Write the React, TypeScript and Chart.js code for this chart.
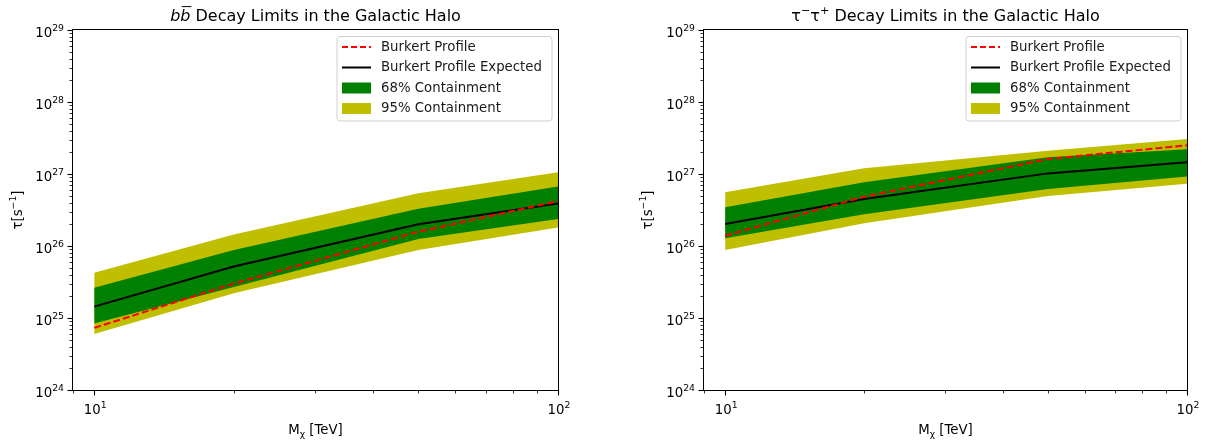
import React, { useEffect, useRef } from 'react';
import { Chart, registerables } from 'chart.js';

Chart.register(...registerables);

// ---------- data ----------
const MASSES = [10, 20, 50, 100]; // TeV

// b b-bar channel
const BB_OBSERVED = [7.3e24, 3.0e25, 1.58e26, 4.2e26];
const BB_EXPECTED = [1.44e25, 5.2e25, 2.0e26, 3.9e26];
const BB_68_UPPER = [2.64e25, 8.8e25, 3.3e26, 6.7e26];
const BB_68_LOWER = [8.4e24, 2.7e25, 1.25e26, 2.37e26];
const BB_95_UPPER = [4.26e25, 1.45e26, 5.4e26, 1.06e27];
const BB_95_LOWER = [6.0e24, 2.2e25, 8.8e25, 1.8e26];

// tau- tau+ channel
const TT_OBSERVED = [1.39e26, 4.84e26, 1.62e27, 2.5e27];
const TT_EXPECTED = [2.02e26, 4.5e26, 1.02e27, 1.46e27];
const TT_68_UPPER = [3.44e26, 7.7e26, 1.71e27, 2.2e27];
const TT_68_LOWER = [1.28e26, 2.75e26, 6.2e26, 9.2e26];
const TT_95_UPPER = [5.57e26, 1.2e27, 2.11e27, 3.06e27];
const TT_95_LOWER = [8.8e25, 2.07e26, 4.95e26, 7.3e26];

const LEGEND_LABELS = ['Burkert Profile', 'Burkert Profile Expected', '68% Containment', '95% Containment'];

const X_MIN = 9;
const X_MAX = 100;
const Y_MIN = 1e24;
const Y_MAX = 1e29;
const X_MAJOR_VALUES = [10, 100];
const X_MAJOR_EXPONENTS = ['1', '2'];
const Y_MAJOR_VALUES = [1e24, 1e25, 1e26, 1e27, 1e28, 1e29];
const Y_MAJOR_EXPONENTS = ['24', '25', '26', '27', '28', '29'];
const TICK_BASE = '10';

const FONT = '"DejaVu Sans", Verdana, sans-serif';
const RED = '#ff0000';
const GREEN = '#008000';
const YELLOW = '#bfbf00';

type Seg = { t: string; sup?: boolean; sub?: boolean; italic?: boolean; overline?: boolean };

type Panel = {
  title: Seg[];
  observed: number[];
  expected: number[];
  up68: number[];
  lo68: number[];
  up95: number[];
  lo95: number[];
  leftPad: number;
  rightPad: number;
  yTitleX: number;
};

const TITLE_REST = ' Decay Limits in the Galactic Halo';
const Y_TITLE: Seg[] = [{ t: 'τ[s' }, { t: '−1', sup: true }, { t: ']' }];
const X_TITLE: Seg[] = [{ t: 'M' }, { t: 'χ', sub: true }, { t: ' [TeV]' }];

const PANELS: Panel[] = [
  {
    title: [{ t: 'b', italic: true }, { t: 'b', italic: true, overline: true }, { t: TITLE_REST }],
    observed: BB_OBSERVED,
    expected: BB_EXPECTED,
    up68: BB_68_UPPER,
    lo68: BB_68_LOWER,
    up95: BB_95_UPPER,
    lo95: BB_95_LOWER,
    leftPad: 73,
    rightPad: 45,
    yTitleX: 17,
  },
  {
    title: [{ t: 'τ' }, { t: '−', sup: true }, { t: 'τ' }, { t: '+', sup: true }, { t: TITLE_REST }],
    observed: TT_OBSERVED,
    expected: TT_EXPECTED,
    up68: TT_68_UPPER,
    lo68: TT_68_LOWER,
    up95: TT_95_UPPER,
    lo95: TT_95_LOWER,
    leftPad: 101,
    rightPad: 19,
    yTitleX: 44,
  },
];

const W = 603;
const H = 445;

function pts(ys: number[]) {
  return MASSES.map((m, i) => ({ x: m, y: ys[i] }));
}

function xTickValues() {
  const out: { value: number }[] = [{ value: 9 }];
  for (let k = 1; k <= 10; k++) out.push({ value: k * 10 });
  return out;
}

function yTickValues() {
  const out: { value: number }[] = [];
  for (let e = 24; e <= 29; e++) {
    out.push({ value: Math.pow(10, e) });
    if (e < 29) for (let k = 2; k <= 9; k++) out.push({ value: k * Math.pow(10, e) });
  }
  return out;
}

function isDecade(v: number) {
  const l = Math.log10(v);
  return Math.abs(l - Math.round(l)) < 1e-9;
}

function segFont(s: Seg, size: number) {
  const sz = s.sup || s.sub ? size * 0.7 : size;
  return `${s.italic ? 'italic ' : ''}${sz}px ${FONT}`;
}

function measureSegs(ctx: CanvasRenderingContext2D, segs: Seg[], size: number) {
  let w = 0;
  for (const s of segs) {
    ctx.font = segFont(s, size);
    w += ctx.measureText(s.t).width;
  }
  return w;
}

// draws rich text starting at x with given baseline
function drawSegs(ctx: CanvasRenderingContext2D, segs: Seg[], size: number, x: number, baseline: number) {
  let xx = x;
  ctx.textAlign = 'left';
  ctx.textBaseline = 'alphabetic';
  for (const s of segs) {
    ctx.font = segFont(s, size);
    const w = ctx.measureText(s.t).width;
    const dy = s.sup ? -size * 0.42 : s.sub ? size * 0.2 : 0;
    ctx.fillText(s.t, xx, baseline + dy);
    if (s.overline) {
      ctx.save();
      ctx.lineWidth = 1;
      ctx.beginPath();
      ctx.moveTo(xx + 1.5, baseline - size * 0.9);
      ctx.lineTo(xx + w + 1, baseline - size * 0.9);
      ctx.stroke();
      ctx.restore();
    }
    xx += w;
  }
}

function makeDecor(p: Panel) {
  return {
    id: 'decor',
    afterDraw(chart: any) {
      const ctx: CanvasRenderingContext2D = chart.ctx;
      const a = chart.chartArea;
      const xs = chart.scales.x;
      const ys = chart.scales.y;
      ctx.save();

      // frame
      ctx.strokeStyle = '#000';
      ctx.fillStyle = '#000';
      ctx.lineWidth = 1;
      const L = Math.round(a.left) - 0.5;
      const T = Math.round(a.top) - 0.5;
      const R = Math.round(a.right) + 0.5;
      const B = Math.round(a.bottom) + 0.5;
      ctx.strokeRect(L, T, R - L, B - T);

      // ticks
      for (const t of xs.ticks) {
        const px = Math.round(xs.getPixelForValue(t.value)) + 0.5;
        if (px < a.left - 1 || px > a.right + 1) continue;
        const major = isDecade(t.value);
        ctx.lineWidth = major ? 1.1 : 0.8;
        ctx.beginPath();
        ctx.moveTo(px, B);
        ctx.lineTo(px, B + (major ? 5 : 3));
        ctx.stroke();
      }
      for (const t of ys.ticks) {
        const py = Math.round(ys.getPixelForValue(t.value)) + 0.5;
        const major = isDecade(t.value);
        ctx.lineWidth = major ? 1.1 : 0.8;
        ctx.beginPath();
        ctx.moveTo(L, py);
        ctx.lineTo(L - (major ? 5 : 3), py);
        ctx.stroke();
      }

      // tick labels (10 with superscript exponent)
      const TS = 13.3;
      X_MAJOR_VALUES.forEach((v, i) => {
        const segs: Seg[] = [{ t: TICK_BASE }, { t: X_MAJOR_EXPONENTS[i], sup: true }];
        const w = measureSegs(ctx, segs, TS);
        const px = xs.getPixelForValue(v);
        drawSegs(ctx, segs, TS, px - w / 2 + 1, 414);
      });
      Y_MAJOR_VALUES.forEach((v, i) => {
        const segs: Seg[] = [{ t: TICK_BASE }, { t: Y_MAJOR_EXPONENTS[i], sup: true }];
        const w = measureSegs(ctx, segs, TS);
        const py = ys.getPixelForValue(v);
        drawSegs(ctx, segs, TS, a.left - 9 - w, py + 6.5);
      });

      // title
      const cx = (a.left + a.right) / 2;
      const tw = measureSegs(ctx, p.title, 16);
      drawSegs(ctx, p.title, 16, cx - tw / 2, 21);

      // x axis title
      const xw = measureSegs(ctx, X_TITLE, 13.3);
      drawSegs(ctx, X_TITLE, 13.3, cx - xw / 2, 434);

      // y axis title
      ctx.save();
      ctx.translate(p.yTitleX, (a.top + a.bottom) / 2);
      ctx.rotate(-Math.PI / 2);
      const yw = measureSegs(ctx, Y_TITLE, 13.3);
      drawSegs(ctx, Y_TITLE, 13.3, -yw / 2, 5);
      ctx.restore();

      // legend
      const bw = 215;
      const bh = 84.5;
      const bx = a.right - 6 - bw;
      const by = a.top + 6.5;
      const r = 3;
      ctx.beginPath();
      ctx.moveTo(bx + r, by);
      ctx.lineTo(bx + bw - r, by);
      ctx.quadraticCurveTo(bx + bw, by, bx + bw, by + r);
      ctx.lineTo(bx + bw, by + bh - r);
      ctx.quadraticCurveTo(bx + bw, by + bh, bx + bw - r, by + bh);
      ctx.lineTo(bx + r, by + bh);
      ctx.quadraticCurveTo(bx, by + bh, bx, by + bh - r);
      ctx.lineTo(bx, by + r);
      ctx.quadraticCurveTo(bx, by, bx + r, by);
      ctx.closePath();
      ctx.fillStyle = 'rgba(255,255,255,0.8)';
      ctx.fill();
      ctx.strokeStyle = 'rgba(204,204,204,0.9)';
      ctx.lineWidth = 1;
      ctx.stroke();

      const rows = [by + 10.5, by + 31, by + 51.5, by + 72];
      const hx0 = bx + 5;
      const hx1 = bx + 34;
      ctx.strokeStyle = RED;
      ctx.lineWidth = 2;
      ctx.setLineDash([6, 3]);
      ctx.beginPath();
      ctx.moveTo(hx0, rows[0]);
      ctx.lineTo(hx1, rows[0]);
      ctx.stroke();
      ctx.setLineDash([]);
      ctx.strokeStyle = '#000';
      ctx.beginPath();
      ctx.moveTo(hx0, rows[1]);
      ctx.lineTo(hx1, rows[1]);
      ctx.stroke();
      ctx.fillStyle = GREEN;
      ctx.fillRect(hx0, rows[2] - 5.5, hx1 - hx0, 11);
      ctx.fillStyle = YELLOW;
      ctx.fillRect(hx0, rows[3] - 5.5, hx1 - hx0, 11);

      ctx.fillStyle = '#1a1a1a';
      ctx.font = `13.3px ${FONT}`;
      ctx.textAlign = 'left';
      ctx.textBaseline = 'middle';
      LEGEND_LABELS.forEach((lab, i) => ctx.fillText(lab, bx + 44, rows[i] + 0.5));

      ctx.restore();
    },
  };
}

function buildConfig(p: Panel): any {
  const line = { pointRadius: 0, pointHoverRadius: 0, tension: 0 };
  return {
    type: 'line',
    data: {
      datasets: [
        { ...line, data: pts(p.observed), borderColor: RED, borderWidth: 2, borderDash: [7, 3], fill: false },
        { ...line, data: pts(p.expected), borderColor: '#000', borderWidth: 2, fill: false },
        { ...line, data: pts(p.up68), borderWidth: 0, borderColor: 'rgba(0,0,0,0)', backgroundColor: GREEN, fill: '+1' },
        { ...line, data: pts(p.lo68), borderWidth: 0, borderColor: 'rgba(0,0,0,0)', fill: false },
        { ...line, data: pts(p.up95), borderWidth: 0, borderColor: 'rgba(0,0,0,0)', backgroundColor: YELLOW, fill: '+1' },
        { ...line, data: pts(p.lo95), borderWidth: 0, borderColor: 'rgba(0,0,0,0)', fill: false },
      ],
    },
    options: {
      animation: false,
      responsive: false,
      maintainAspectRatio: false,
      devicePixelRatio: 1,
      events: [],
      layout: { padding: { left: 0, right: p.rightPad, top: 30, bottom: 0 } },
      plugins: {
        legend: { display: false },
        title: { display: false },
        tooltip: { enabled: false },
      },
      scales: {
        x: {
          type: 'logarithmic',
          position: 'bottom',
          min: X_MIN,
          max: X_MAX,
          grid: { display: false, drawTicks: false, tickLength: 0 },
          border: { display: false },
          afterBuildTicks: (s: any) => {
            s.ticks = xTickValues();
          },
          afterFit: (s: any) => {
            s.height = 55;
          },
          ticks: { display: false, autoSkip: false },
        },
        y: {
          type: 'logarithmic',
          position: 'left',
          min: Y_MIN,
          max: Y_MAX,
          grid: { display: false, drawTicks: false, tickLength: 0 },
          border: { display: false },
          afterBuildTicks: (s: any) => {
            s.ticks = yTickValues();
          },
          afterFit: (s: any) => {
            s.width = p.leftPad;
          },
          ticks: { display: false, autoSkip: false },
        },
      },
    },
    plugins: [makeDecor(p)],
  };
}

function ChartPanel({ panel, left }: { panel: Panel; left: number }) {
  const ref = useRef<HTMLCanvasElement>(null);
  useEffect(() => {
    const chart = new Chart(ref.current as HTMLCanvasElement, buildConfig(panel));
    return () => chart.destroy();
  }, [panel]);
  return (
    <canvas
      ref={ref}
      width={W}
      height={H}
      style={{ position: 'absolute', left, top: 0, width: W, height: H }}
    />
  );
}

export default function App() {
  return (
    <div style={{ position: 'absolute', left: 0, top: 0, width: 1206, height: 445, background: '#fff' }}>
      <ChartPanel panel={PANELS[0]} left={0} />
      <ChartPanel panel={PANELS[1]} left={603} />
    </div>
  );
}
